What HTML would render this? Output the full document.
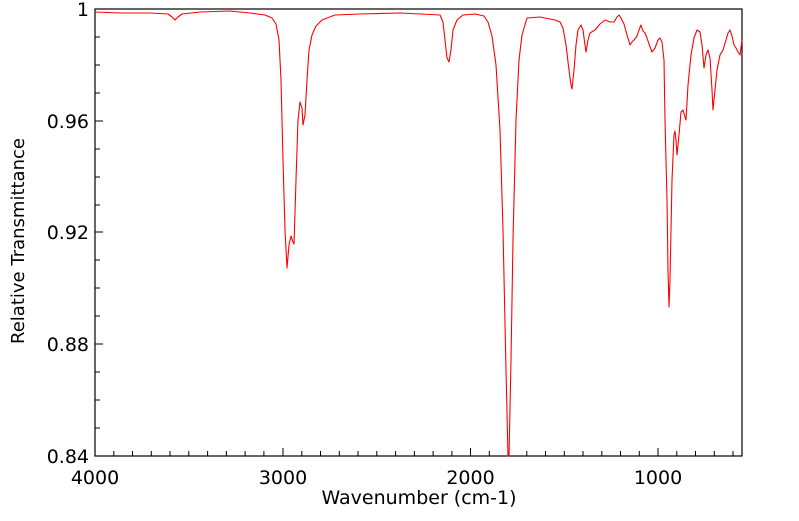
<!DOCTYPE html>
<html><head><style>html,body{margin:0;padding:0;background:#fff}</style></head>
<body>
<svg width="799" height="516" xmlns="http://www.w3.org/2000/svg" font-family="DejaVu Sans, sans-serif" font-size="19">
<rect x="0" y="0" width="799" height="516" fill="#fff"/>
<g stroke="#000" stroke-width="1">
<line x1="95" y1="121" x2="103" y2="121"/><line x1="95" y1="232" x2="103" y2="232"/><line x1="95" y1="344" x2="103" y2="344"/>
<line x1="95" y1="37" x2="100" y2="37"/><line x1="95" y1="65" x2="100" y2="65"/><line x1="95" y1="93" x2="100" y2="93"/>
<line x1="95" y1="149" x2="100" y2="149"/><line x1="95" y1="177" x2="100" y2="177"/><line x1="95" y1="205" x2="100" y2="205"/>
<line x1="95" y1="260" x2="100" y2="260"/><line x1="95" y1="288" x2="100" y2="288"/><line x1="95" y1="316" x2="100" y2="316"/>
<line x1="95" y1="372" x2="100" y2="372"/><line x1="95" y1="400" x2="100" y2="400"/><line x1="95" y1="428" x2="100" y2="428"/>
<line x1="283" y1="456" x2="283" y2="448"/><line x1="470.5" y1="456" x2="470.5" y2="448"/><line x1="658" y1="456" x2="658" y2="448"/>
</g>
<g stroke="#000" stroke-width="1">
<path d="M113.8 456v-5M132.5 456v-5M151.3 456v-5M170 456v-5M188.8 456v-5M207.6 456v-5M226.4 456v-5M245.1 456v-5M263.9 456v-5M301.8 456v-5M320.5 456v-5M339.3 456v-5M358 456v-5M376.8 456v-5M395.6 456v-5M414.4 456v-5M433.1 456v-5M451.9 456v-5M489.3 456v-5M508 456v-5M526.8 456v-5M545.5 456v-5M564.3 456v-5M583 456v-5M601.8 456v-5M620.5 456v-5M639.3 456v-5M676.8 456v-5M695.5 456v-5M714.3 456v-5M733 456v-5"/>
</g>
<rect x="95" y="9" width="647" height="447" fill="none" stroke="#000" stroke-width="1.2"/>
<polyline fill="none" stroke="#ff0000" stroke-width="1.1" stroke-linejoin="round" points="95,12 120,13 150,13 168,14 172,17 175,20 178,17 182,14 200,12 230,11 250,13 265,15 272,18 276,24 279,40 281,80 283,160 285,230 287,268 289,245 291,236 293,242 294,244 296,180 298,120 300,102 302,108 303,125 305,115 307,80 309,50 312,35 316,26 322,20 335,15 360,14 400,13 440,15 443,22 445,40 447,58 449,62 451,50 453,30 457,20 463,15 475,14 484,16 488,22 492,36 496,65 500,130 503,230 506,370 508,456 509,456 511,360 513,240 516,120 519,60 522,35 527,18 540,17 555,20 560,22 563,28 566,45 569,70 571,85 572,89 574,70 576,45 578,30 581,25 583,30 585,45 586,52 588,40 590,33 595,30 600,24 605,20 610,22 614,22 617,17 619,15 621,18 624,24 627,35 630,45 632,42 634,40 637,36 639,30 641,25 643,31 645,33 647,38 649,44 652,52 655,48 658,40 660,38 662,42 664,60 665,120 667,200 668,270 669,307 670,280 672,180 674,135 675,131 676,140 677,155 679,135 681,112 683,110 685,117 686,120 688,85 691,55 694,38 697,30 700,32 702,45 704,68 706,55 708,50 710,58 712,90 713,110 715,90 717,70 720,55 723,50 726,40 728,33 730,30 732,36 734,45 736,48 738,52 740,55 742,40"/>
<g text-anchor="end">
<text x="89" y="16">1</text><text x="89" y="128">0.96</text><text x="89" y="239">0.92</text><text x="89" y="351">0.88</text><text x="89" y="463">0.84</text>
</g>
<g text-anchor="middle">
<text x="95" y="484">4000</text><text x="283" y="484">3000</text><text x="470.5" y="484">2000</text><text x="658" y="484">1000</text>
<text x="419" y="504" font-size="19">Wavenumber (cm-1)</text>
<text transform="translate(24,241) rotate(-90)" font-size="18">Relative Transmittance</text>
</g>
</svg>
</body></html>
